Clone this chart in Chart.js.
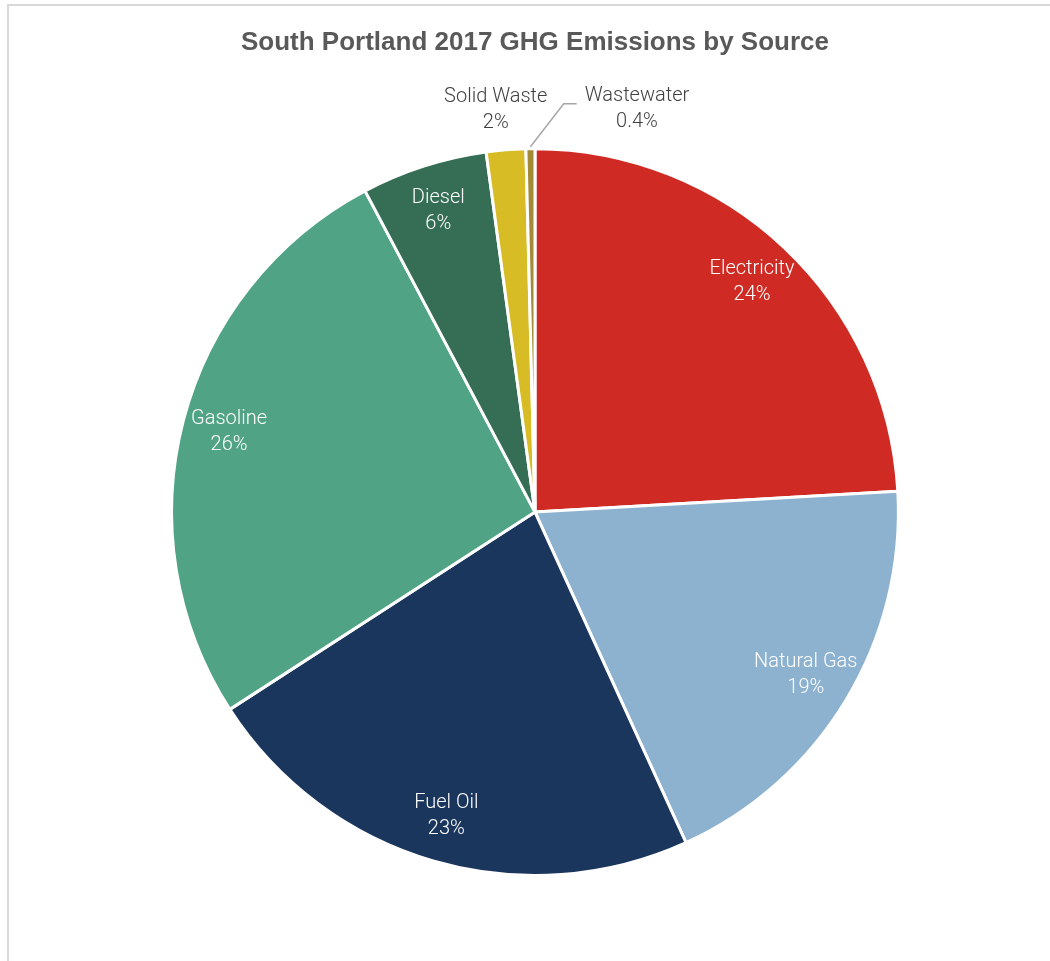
<!DOCTYPE html>
<html>
<head>
<meta charset="utf-8">
<script src="https://cdn.jsdelivr.net/npm/chart.js@4/dist/chart.umd.min.js"></script>
<style>
    html, body { margin: 0; padding: 0; background: #fff; overflow: hidden; }
    #frame {
        position: absolute; left: 7px; top: 4px; width: 1100px; height: 1000px;
        border-left: 2px solid #d9d9d9; border-top: 2px solid #d9d9d9;
    }
    #wrap { position: absolute; left: 0; top: 0; width: 1050px; height: 961px; }
</style>
</head>
<body>
<div id="frame"></div>
<div id="wrap"><canvas id="pie"></canvas></div>
<script>
// data
const sources = ['Electricity', 'Natural Gas', 'Fuel Oil', 'Gasoline', 'Diesel', 'Solid Waste', 'Wastewater'];
const shares = [24.1, 19.1, 22.7, 26.4, 5.6, 1.75, 0.4];
const shareLabels = ['24%', '19%', '23%', '26%', '6%', '2%', '0.4%'];
const colors = ['#cf2a23', '#8db2d0', '#1b365d', '#50a385', '#356e55', '#d8bc25', '#a38a36'];

const labelFont = '300 20px "Helvetica Neue", Roboto, "Liberation Sans", Arial, sans-serif';

// draws slice labels: white inside big slices, gray outside for tiny ones
const sliceLabels = {
    id: 'sliceLabels',
    afterDatasetsDraw(chart) {
        const ctx = chart.ctx;
        const arcs = chart.getDatasetMeta(0).data;
        ctx.save();
        ctx.font = labelFont;
        ctx.textAlign = 'center';
        ctx.textBaseline = 'middle';
        let outsideCount = 0;
        arcs.forEach(function(arc, i) {
            const p = arc.getProps(['x', 'y', 'startAngle', 'endAngle', 'outerRadius']);
            const mid = (p.startAngle + p.endAngle) / 2;
            if (shares[i] >= 3) {
                const r = p.outerRadius * 0.87;
                const lx = p.x + Math.cos(mid) * r;
                const ly = p.y + Math.sin(mid) * r;
                ctx.fillStyle = '#ffffff';
                ctx.fillText(sources[i], lx, ly - 13);
                ctx.fillText(shareLabels[i], lx, ly + 13);
            } else {
                ctx.fillStyle = '#404040';
                const r = p.outerRadius + 40;
                let lx = p.x + Math.cos(mid) * r;
                let ly = p.y + Math.sin(mid) * r;
                if (outsideCount > 0) {
                    // second tiny slice: pushed right with a leader line
                    const ex = p.x + Math.cos(mid) * (p.outerRadius + 2);
                    const ey = p.y + Math.sin(mid) * (p.outerRadius + 2);
                    lx = p.x + 102;
                    const w = ctx.measureText(sources[i]).width;
                    const kx = lx - w / 2 - 8;
                    const ky = ly - 5;
                    ctx.strokeStyle = '#a6a6a6';
                    ctx.lineWidth = 1.5;
                    ctx.beginPath();
                    ctx.moveTo(ex, ey);
                    ctx.lineTo(kx - 13, ky);
                    ctx.lineTo(kx, ky);
                    ctx.stroke();
                } else {
                    lx = lx - 7;
                }
                ctx.fillText(sources[i], lx, ly - 13);
                ctx.fillText(shareLabels[i], lx, ly + 13);
                outsideCount++;
            }
        });
        ctx.restore();
    }
};

new Chart(document.getElementById('pie'), {
    type: 'pie',
    data: {
        labels: sources,
        datasets: [{
            data: shares,
            backgroundColor: colors,
            borderColor: '#ffffff',
            borderWidth: 3
        }]
    },
    options: {
        responsive: true,
        maintainAspectRatio: false,
        animation: false,
        layout: { padding: { left: 170, right: 150, top: 0, bottom: 84 } },
        plugins: {
            legend: { display: false },
            tooltip: { enabled: false },
            title: {
                display: true,
                text: 'South Portland 2017 GHG Emissions by Source',
                color: '#595959',
                font: { family: 'Arial, "Liberation Sans", sans-serif', size: 26, weight: 'bold' },
                padding: { top: 27, bottom: 89 }
            }
        }
    },
    plugins: [sliceLabels]
});
</script>
</body>
</html>
